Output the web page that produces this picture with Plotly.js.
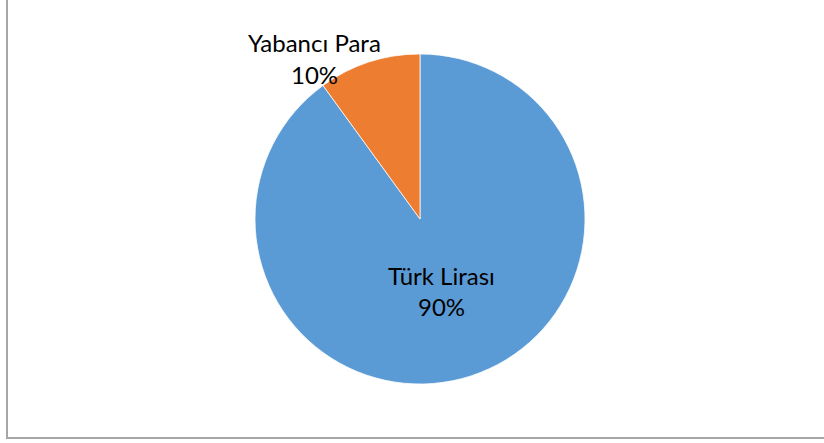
<!DOCTYPE html>
<html>
<head>
<meta charset="utf-8">
<script src="https://cdn.plot.ly/plotly-3.0.1.min.js"></script>
<style>
html,body{margin:0;padding:0;background:#fff;}
#wrap{position:relative;width:824px;height:443px;overflow:hidden;}
#frame{position:absolute;left:6px;top:-4px;width:830px;height:443px;box-sizing:border-box;border-left:2px solid #a6a6a6;border-bottom:2px solid #a6a6a6;}
#chart{position:absolute;left:0;top:0;width:824px;height:443px;}
</style>
</head>
<body>
<div id="wrap"><div id="frame"></div><div id="chart"></div></div>
<script>
const categories = ["Türk Lirası", "Yabancı Para"];
const values = [90, 10];
const colors = ["#5B9BD5", "#ED7D31"];
const percentLabels = ["90%", "10%"];

const L = 255, R = 239, T = 54, B = 59, W = 824, H = 443;
const pw = W - L - R, ph = H - T - B;
function px(x){ return (x - L) / pw; }
function py(y){ return (H - B - y) / ph; }

const labelPos = [
  {x: 441, y1: 275, y2: 306},
  {x: 314, y1: 43, y2: 75}
];
const font = {family: 'Lato, Carlito, sans-serif', size: 24, color: '#000'};
const annotations = [];
categories.forEach((c, i) => {
  annotations.push({text: c, x: px(labelPos[i].x), y: py(labelPos[i].y1), xref: 'paper', yref: 'paper', showarrow: false, xanchor: 'center', yanchor: 'middle', font: font});
  annotations.push({text: percentLabels[i], x: px(labelPos[i].x), y: py(labelPos[i].y2), xref: 'paper', yref: 'paper', showarrow: false, xanchor: 'center', yanchor: 'middle', font: font});
});

Plotly.newPlot('chart', [{
  type: 'pie',
  labels: categories,
  values: values,
  sort: false,
  direction: 'clockwise',
  rotation: 0,
  marker: {colors: colors, line: {color: '#ffffff', width: 0.75}},
  textinfo: 'none',
  hoverinfo: 'label+percent',
  showlegend: false
}], {
  width: W, height: H,
  margin: {l: L, r: R, t: T, b: B, pad: 0},
  paper_bgcolor: 'rgba(0,0,0,0)',
  plot_bgcolor: 'rgba(0,0,0,0)',
  showlegend: false,
  annotations: annotations
}, {displayModeBar: false, staticPlot: true});
</script>
</body>
</html>
